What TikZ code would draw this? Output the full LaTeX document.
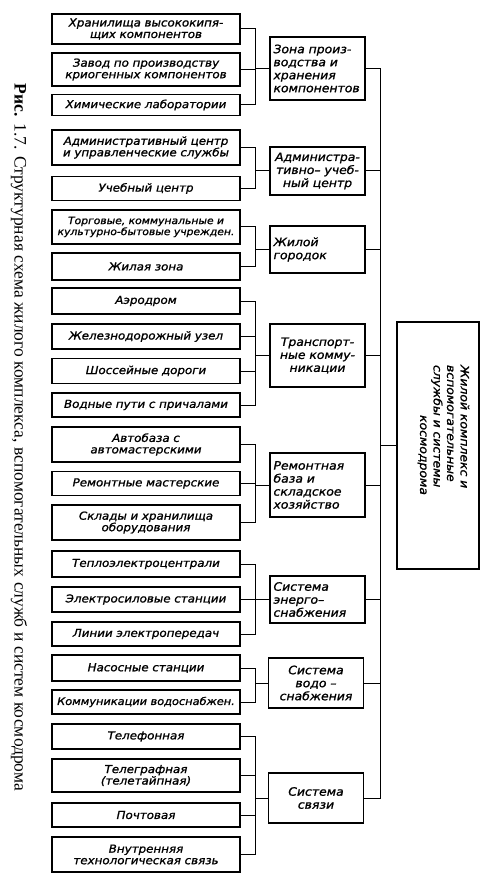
\documentclass[tikz,border=0pt]{standalone}
\usepackage{fontspec}
\setmainfont{Liberation Serif}
\newfontfamily\boxfont[FakeStretch=1.08,FakeBold=1.2,WordSpace=1.8]{DejaVu Sans Oblique}
\usepackage{tikz}

\begin{document}
\begin{tikzpicture}[x=1pt,y=-1pt,
  item/.style={draw,line width=1.4pt,minimum width=188pt,text width=186pt,inner sep=0.5pt,
    align=center,font=\boxfont\fontsize{11}{11.5}\selectfont},
  group/.style={draw,line width=1.4pt,minimum width=95pt,text width=88pt,inner sep=1pt,
    align=center,font=\boxfont\fontsize{11.5}{13}\selectfont},
  link/.style={line width=1pt}]
\useasboundingbox (0,0) rectangle (484,877);

% Caption
\node[rotate=-90,font=\fontsize{17.5}{20}\selectfont] (ris) at (19,437.5)
  {\makebox[707pt][s]{\textbf{Рис.} 1.7. Структурная схема жилого комплекса, вспомогательных служб и систем космодрома}};

% Left column
\node[item,minimum height=30pt] (hran) at (146,29) {Хранилища высококипя-\\щих компонентов};
\node[item,minimum height=33pt] (zavod) at (146,69.5) {Завод по производству\\криогенных компонентов};
\node[item,minimum height=21pt] (khim) at (146,105) {Химические лаборатории};
\node[item,minimum height=35pt] (admc) at (146,147.5) {Административный центр\\и управленческие службы};
\node[item,minimum height=24pt] (ucheb) at (146,188.5) {Учебный центр};
\node[item,minimum height=34pt,font=\boxfont\fontsize{10}{11}\selectfont] (torg) at (146,227)
  {Торговые, коммунальные и\\культурно-бытовые учрежден.};
\node[item,minimum height=27pt] (zhil) at (146,266.5) {Жилая зона};
\node[item,minimum height=26pt] (aero) at (146,301) {Аэродром};
\node[item,minimum height=25pt] (zhd) at (146,336.5) {Железнодорожный узел};
\node[item,minimum height=25pt] (shosse) at (146,371) {Шоссейные дороги};
\node[item,minimum height=24pt] (vodn) at (146,405) {Водные пути с причалами};
\node[item,minimum height=35pt] (avto) at (146,444.5) {Автобаза с\\автомастерскими};
\node[item,minimum height=24pt] (remm) at (146,483.5) {Ремонтные мастерские};
\node[item,minimum height=35pt] (sklad) at (146,522.5) {Склады и хранилища\\оборудования};
\node[item,minimum height=26pt] (tec) at (146,564) {Теплоэлектроцентрали};
\node[item,minimum height=25pt] (elst) at (146,599.5) {Электросиловые станции};
\node[item,minimum height=24pt] (lep) at (146,634) {Линии электропередач};
\node[item,minimum height=26pt] (nasos) at (146,668) {Насосные станции};
\node[item,minimum height=24pt,font=\boxfont\fontsize{10.5}{11}\selectfont] (vodsn) at (146,702)
  {Коммуникации водоснабжен.};
\node[item,minimum height=25pt] (telef) at (146,736.5) {Телефонная};
\node[item,minimum height=33pt] (telegr) at (146,775.5) {Телеграфная\\(телетайпная)};
\node[item,minimum height=24pt] (pocht) at (146,815) {Почтовая};
\node[item,minimum height=35pt] (vnutr) at (146,854.5) {Внутренняя\\технологическая связь};

% Middle column
\node[group,minimum height=63pt,align=left] (zona) at (317.5,68.5) {Зона произ-\\водства и\\хранения\\компонентов};
\node[group,minimum height=48pt] (admuch) at (317.5,171) {Администра-\\тивно– учеб-\\ный центр};
\node[group,minimum height=47pt,align=left] (gorodok) at (317.5,249.5) {Жилой\\городок};
\node[group,minimum height=63pt] (transp) at (317.5,355.5) {Транспорт-\\ные комму-\\никации};
\node[group,minimum height=64pt,align=left] (remb) at (317.5,485) {Ремонтная\\база и\\складское\\хозяйство};
\node[group,minimum height=47pt,align=left] (energo) at (317.5,599.5) {Система\\энерго–\\снабжения};
\node[group,minimum height=50pt] (vodo) at (316,683) {Система\\водо –\\снабжения};
\node[group,minimum height=50pt] (svyaz) at (316,798) {Система\\связи};

% Right box
\node[draw,line width=1.4pt,minimum width=82pt,minimum height=247pt] (kompl) at (438,445.5) {};
\node[rotate=-90,text width=130pt,align=left,inner sep=0pt,
  font=\boxfont\fontsize{11.5}{13.5}\selectfont] (komplt) at (443.5,430)
  {Жилой комплекс и\\вспомогательные\\службы и системы\\\hfill космодрома};

% Buses
\coordinate (bus) at (255,0);
\coordinate (spine) at (380,0);

% Brackets of the left column
\draw[link] (hran.east) -- (hran.east -| bus) -- (khim.east -| bus) -- (khim.east);
\draw[link] (zavod.east) -- (zavod.east -| bus);
\draw[link] (zona.west) -- (zona.west -| bus);

\draw[link] (admc.east) -- (admc.east -| bus) -- (ucheb.east -| bus) -- (ucheb.east);
\draw[link] (admuch.west) -- (admuch.west -| bus);

\draw[link] (torg.east) -- (torg.east -| bus) -- (zhil.east -| bus) -- (zhil.east);
\draw[link] (gorodok.west) -- (gorodok.west -| bus);

\draw[link] (aero.east) -- (aero.east -| bus) -- (vodn.east -| bus) -- (vodn.east);
\draw[link] (zhd.east) -- (zhd.east -| bus);
\draw[link] (shosse.east) -- (shosse.east -| bus);
\draw[link] (transp.west) -- (transp.west -| bus);

\draw[link] (avto.east) -- (avto.east -| bus) -- (sklad.east -| bus) -- (sklad.east);
\draw[link] (remm.east) -- (remm.east -| bus);
\draw[link] (remb.west) -- (remb.west -| bus);

\draw[link] (tec.east) -- (tec.east -| bus) -- (lep.east -| bus) -- (lep.east);
\draw[link] (elst.east) -- (elst.east -| bus);
\draw[link] (energo.west) -- (energo.west -| bus);

\draw[link] (nasos.east) -- (nasos.east -| bus) -- (vodsn.east -| bus) -- (vodsn.east);
\draw[link] (vodo.west) -- (vodo.west -| bus);

\draw[link] (telef.east) -- (telef.east -| bus) -- (vnutr.east -| bus) -- (vnutr.east);
\draw[link] (telegr.east) -- (telegr.east -| bus);
\draw[link] (pocht.east) -- (pocht.east -| bus);
\draw[link] (svyaz.west) -- (svyaz.west -| bus);

% Spine to the right box
\draw[link] (zona.east) -- (zona.east -| spine) -- (svyaz.east -| spine) -- (svyaz.east);
\draw[link] (admuch.east) -- (admuch.east -| spine);
\draw[link] (gorodok.east) -- (gorodok.east -| spine);
\draw[link] (transp.east) -- (transp.east -| spine);
\draw[link] (remb.east) -- (remb.east -| spine);
\draw[link] (energo.east) -- (energo.east -| spine);
\draw[link] (vodo.east) -- (vodo.east -| spine);
\draw[link] (kompl.west) -- (kompl.west -| spine);
\end{tikzpicture}
\end{document}
